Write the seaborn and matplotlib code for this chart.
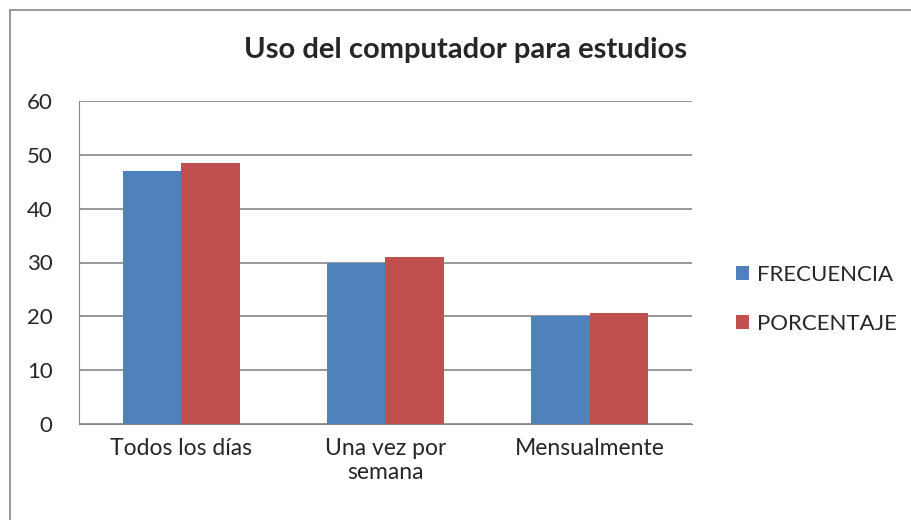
import pandas as pd
import matplotlib.pyplot as plt
import seaborn as sns
from matplotlib.patches import Rectangle

# data
categorias = ['Todos los días', 'Una vez por\nsemana', 'Mensualmente']
frecuencia = [47, 30, 20]
porcentaje = [48.45, 30.93, 20.62]

df = pd.DataFrame({
    'categoria': categorias * 2,
    'valor': frecuencia + porcentaje,
    'serie': ['FRECUENCIA'] * 3 + ['PORCENTAJE'] * 3,
})

sns.set_style('white')
plt.rcParams['font.family'] = ['Lato', 'DejaVu Sans']

fig = plt.figure(figsize=(9.11, 5.2), dpi=100)
ax = fig.add_axes([79 / 911, 1 - 424 / 520, 613 / 911, 323 / 520])

sns.barplot(data=df, x='categoria', y='valor', hue='serie',
            palette=['#4F81BD', '#C0504D'], width=0.573, ax=ax,
            saturation=1, edgecolor='none')

ax.set_ylim(0, 60)
ax.set_yticks(range(0, 61, 10))
ax.yaxis.grid(True, color='#868686', linewidth=1.2)
ax.set_axisbelow(True)
ax.set_xlabel('')
ax.set_ylabel('')
for s in ['top', 'right']:
    ax.spines[s].set_visible(False)
ax.spines['left'].set_color('#868686')
ax.spines['bottom'].set_color('#868686')
ax.tick_params(axis='y', labelsize=16, length=0, pad=19)
ax.tick_params(axis='x', labelsize=16.5, length=0, pad=10)
ax.set_xlim(-0.5, 2.5)

fig.text(466 / 911, 1 - 50 / 520, 'Uso del computador para estudios', ha='center', va='center',
         fontsize=21, fontweight='bold')

leg = ax.legend(loc='center left', bbox_to_anchor=(1.039, 0.385), frameon=False,
                fontsize=16, handlelength=0.6, handleheight=0.6,
                handletextpad=0.35, labelspacing=1.3)

fig.add_artist(Rectangle((10 / 911, -0.05), 1.0, 1.05 - 10 / 520,
                         transform=fig.transFigure, fill=False,
                         edgecolor='#868686', linewidth=1.2))

fig.savefig('out.png', dpi=100)
